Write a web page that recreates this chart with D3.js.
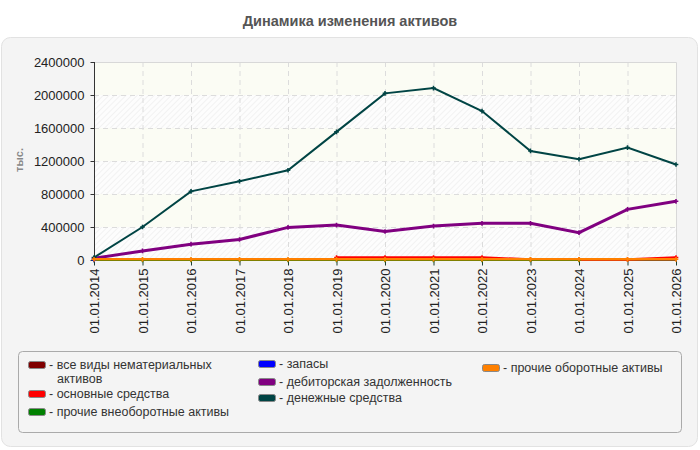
<!DOCTYPE html>
<html>
<head>
<meta charset="utf-8">
<script src="https://cdn.jsdelivr.net/npm/d3@7"></script>
<style>
  body { margin: 0; background: #fff; font-family: "Liberation Sans", Arial, sans-serif; }
</style>
</head>
<body>
<div class="chart"></div>
<script>
// data
const dates = ["01.01.2014","01.01.2015","01.01.2016","01.01.2017","01.01.2018","01.01.2019","01.01.2020",
               "01.01.2021","01.01.2022","01.01.2023","01.01.2024","01.01.2025","01.01.2026"];
const yTicks = [0, 400000, 800000, 1200000, 1600000, 2000000, 2400000];

const intangible = [null,null,null,null,null,null,null,null,null,null,null,null,null];
const fixedAssets = [null,null,null,null,null,30000,30000,30000,30000,6000,6000,6000,30000];
const otherNonCurrent = [0,0,0,0,0,0,0,0,0,0,0,null,null];
const inventory = [0,null,null,null,null,null,null,null,null,null,null,null,null];
const receivables = [20000,110000,192000,249000,395000,423000,346000,411000,444000,444000,331000,614000,711000];
const cash = [30000,400000,832000,954000,1088000,1553000,2020000,2084000,1805000,1322000,1221000,1363000,1157000];
const otherCurrent = [8000,8000,8000,8000,8000,8000,8000,8000,8000,8000,8000,8000,8000];

const series = [
  {name: "все виды нематериальных", name2: "активов", color: "#800000", values: intangible, w: 2},
  {name: "основные средства", color: "#ff0000", values: fixedAssets, w: 2.5},
  {name: "прочие внеоборотные активы", color: "#008000", values: otherNonCurrent, w: 2},
  {name: "запасы", color: "#0000ff", values: inventory, w: 2},
  {name: "дебиторская задолженность", color: "#800080", values: receivables, w: 3},
  {name: "денежные средства", color: "#004444", values: cash, w: 2},
  {name: "прочие оборотные активы", color: "#ff8000", values: otherCurrent, w: 2.5}
];

const width = 700, height = 450;
const plot = {left: 94, right: 676, top: 62, bottom: 260};

const svg = d3.select(".chart").append("svg")
    .attr("width", width)
    .attr("height", height);

// title
svg.append("text")
    .attr("x", 350).attr("y", 26)
    .attr("text-anchor", "middle")
    .attr("font-size", 14.5).attr("font-weight", "bold")
    .attr("fill", "#555")
    .text("Динамика изменения активов");

// outer panel
svg.append("rect")
    .attr("x", 1.5).attr("y", 37.5)
    .attr("width", 696).attr("height", 409)
    .attr("rx", 9)
    .attr("fill", "#f4f4f4")
    .attr("stroke", "#e2e2e2");

const defs = svg.append("defs");
const pat = defs.append("pattern")
    .attr("id", "hatch")
    .attr("patternUnits", "userSpaceOnUse")
    .attr("width", 4).attr("height", 4)
    .attr("patternTransform", "rotate(45)");
pat.append("rect").attr("width", 4).attr("height", 4).attr("fill", "#fdfdfd");
pat.append("line").attr("x1", 0).attr("y1", 0).attr("x2", 0).attr("y2", 4)
    .attr("stroke", "#ececec").attr("stroke-width", 1.2);

const xScale = d3.scalePoint()
    .domain(dates)
    .range([plot.left, plot.right]);

const yScale = d3.scaleLinear()
    .domain([0, 2400000])
    .range([plot.bottom, plot.top]);

// plot bands
svg.append("g")
    .selectAll("rect")
    .data(d3.pairs(yTicks))
    .join("rect")
    .attr("x", plot.left)
    .attr("width", plot.right - plot.left)
    .attr("y", d => yScale(d[1]))
    .attr("height", d => yScale(d[0]) - yScale(d[1]))
    .attr("fill", (d, i) => (yTicks.length - 2 - i) % 2 === 0 ? "#fbfcf4" : "url(#hatch)");

// grid
svg.append("g")
    .selectAll("line")
    .data(yTicks.slice(1, -1))
    .join("line")
    .attr("x1", plot.left).attr("x2", plot.right)
    .attr("y1", d => yScale(d) + 0.5).attr("y2", d => yScale(d) + 0.5)
    .attr("stroke", "#dcdcdc").attr("stroke-dasharray", "5,4");

svg.append("g")
    .selectAll("line")
    .data(dates.slice(1, -1))
    .join("line")
    .attr("x1", d => xScale(d) + 0.5).attr("x2", d => xScale(d) + 0.5)
    .attr("y1", plot.top).attr("y2", plot.bottom)
    .attr("stroke", "#dcdcdc").attr("stroke-dasharray", "5,4");

// frame top / right
svg.append("path")
    .attr("d", `M${plot.left},${plot.top + 0.5}H${plot.right + 0.5}V${plot.bottom}`)
    .attr("fill", "none")
    .attr("stroke", "#d8d8d8");

// axes
const yAxis = d3.axisLeft(yScale)
    .tickValues(yTicks)
    .tickFormat(d3.format("d"))
    .tickSize(4)
    .tickPadding(6);

svg.append("g")
    .attr("class", "axis y-axis")
    .attr("transform", `translate(${plot.left + 0.5},0)`)
    .call(yAxis)
    .call(g => g.select(".domain").attr("stroke", "#333").attr("d", `M0,${plot.top}V${plot.bottom}`))
    .call(g => g.selectAll(".tick line").attr("stroke", "#333"))
    .call(g => g.selectAll("text")
        .attr("font-family", "Liberation Sans, Arial, sans-serif")
        .attr("font-size", 13).attr("fill", "#222"));

const xAxis = d3.axisBottom(xScale)
    .tickSize(5);

svg.append("g")
    .attr("class", "axis x-axis")
    .attr("transform", `translate(0,${plot.bottom + 0.5})`)
    .call(xAxis)
    .call(g => g.select(".domain").attr("stroke", "#333").attr("d", `M${plot.left},0H${plot.right}`))
    .call(g => g.selectAll(".tick line").attr("stroke", "#1d3d33"))
    .call(g => g.selectAll("text")
        .attr("font-family", "Liberation Sans, Arial, sans-serif")
        .attr("font-size", 13).attr("fill", "#222")
        .attr("transform", "rotate(-90)")
        .attr("x", -8).attr("y", 0).attr("dy", "0.35em")
        .attr("text-anchor", "end"));

// y label
svg.append("text")
    .attr("transform", "translate(23,160) rotate(-90)")
    .attr("text-anchor", "middle")
    .attr("font-size", 11).attr("font-weight", "bold")
    .attr("fill", "#888")
    .text("тыс.");

// lines
const line = d3.line()
    .defined(d => d != null)
    .x((d, i) => xScale(dates[i]))
    .y(d => yScale(d));

series.forEach(s => {
    svg.append("path")
        .datum(s.values)
        .attr("fill", "none")
        .attr("stroke", s.color)
        .attr("stroke-width", s.w)
        .attr("d", line);

    svg.append("g")
        .selectAll("path")
        .data(s.values.map((v, i) => ({v, i})).filter(d => d.v != null))
        .join("path")
        .attr("transform", d => `translate(${xScale(dates[d.i])},${yScale(d.v)})`)
        .attr("d", d3.symbol(d3.symbolCross, 12))
        .attr("fill", s.color);
});

// legend
svg.append("rect")
    .attr("x", 18.5).attr("y", 351.5)
    .attr("width", 663).attr("height", 81)
    .attr("rx", 4)
    .attr("fill", "none")
    .attr("stroke", "#aaa");

const legendPos = [
    {x: 28, y: 361}, {x: 28, y: 390}, {x: 28, y: 408},
    {x: 258, y: 360}, {x: 258, y: 378}, {x: 258, y: 394},
    {x: 482, y: 364}
];

const legend = svg.append("g")
    .attr("font-size", 12.5)
    .attr("fill", "#333")
    .selectAll("g")
    .data(series)
    .join("g")
    .attr("transform", (d, i) => `translate(${legendPos[i].x},${legendPos[i].y})`);

legend.append("rect")
    .attr("x", 0.5).attr("y", 0.5)
    .attr("width", 17).attr("height", 7)
    .attr("rx", 2)
    .attr("fill", d => d.color)
    .attr("stroke", "#888");

legend.append("text")
    .attr("x", 21).attr("y", 8)
    .text(d => "- " + d.name);

legend.filter(d => d.name2)
    .append("text")
    .attr("x", 29).attr("y", 22)
    .text(d => d.name2);
</script>
</body>
</html>
